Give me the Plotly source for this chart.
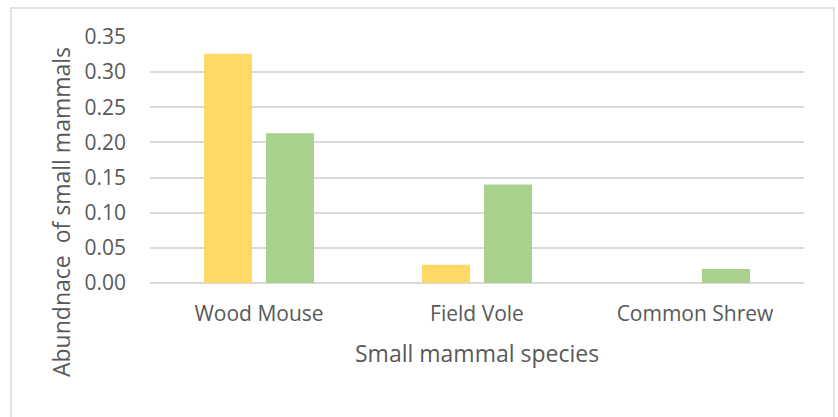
import plotly.graph_objects as go

# Abundance of small mammals by species, two sampled groups
species = ["Wood Mouse", "Field Vole", "Common Shrew"]
group_a = [0.326, 0.026, 0.0]
group_b = [0.213, 0.140, 0.020]
y_ticks = [0.00, 0.05, 0.10, 0.15, 0.20, 0.25, 0.30, 0.35]

text_color = "#595959"
grid_color = "#D9D9D9"
font_family = "Open Sans, Liberation Sans, sans-serif"

fig = go.Figure()
fig.add_trace(go.Bar(x=species, y=group_a, marker=dict(color="#FFD966", line=dict(width=0)), showlegend=False))
fig.add_trace(go.Bar(x=species, y=group_b, marker=dict(color="#A9D18E", line=dict(width=0)), showlegend=False))

fig.update_layout(
    width=838, height=417,
    margin=dict(l=150, r=34, t=37, b=134),
    paper_bgcolor="white", plot_bgcolor="white",
    barmode="group", bargap=0.431, bargroupgap=0.226,
    font=dict(family=font_family, color=text_color, size=21),
    xaxis=dict(showgrid=False, showline=False, ticks="", tickfont=dict(size=21, color=text_color),
               ticklabelstandoff=16),
    yaxis=dict(range=[0, 0.35], tickvals=y_ticks, ticktext=[f"{v:.2f}" for v in y_ticks],
               showgrid=True, gridcolor=grid_color, gridwidth=2,
               zeroline=True, zerolinecolor=grid_color, zerolinewidth=2,
               showline=False, ticks="", tickfont=dict(size=21, color=text_color),
               ticklabelstandoff=23),
    annotations=[
        dict(text="Abundnace  of small mammals", xref="paper", yref="paper",
             x=(61 - 150) / 654, y=(283 - 212) / 246, textangle=-90, showarrow=False,
             font=dict(size=23, color=text_color), xanchor="center", yanchor="middle"),
        dict(text="Small mammal species", xref="paper", yref="paper",
             x=(477 - 150) / 654, y=(283 - 353) / 246, showarrow=False,
             font=dict(size=23, color=text_color), xanchor="center", yanchor="middle"),
    ],
    shapes=[
        dict(type="rect", xref="paper", yref="paper",
             x0=(11 - 150) / 654, x1=(834 - 150) / 654,
             y0=(283 - 425) / 246, y1=(283 - 8) / 246,
             line=dict(color=grid_color, width=1.5), fillcolor="rgba(0,0,0,0)", layer="below"),
    ],
)

fig.write_html("out.html")
